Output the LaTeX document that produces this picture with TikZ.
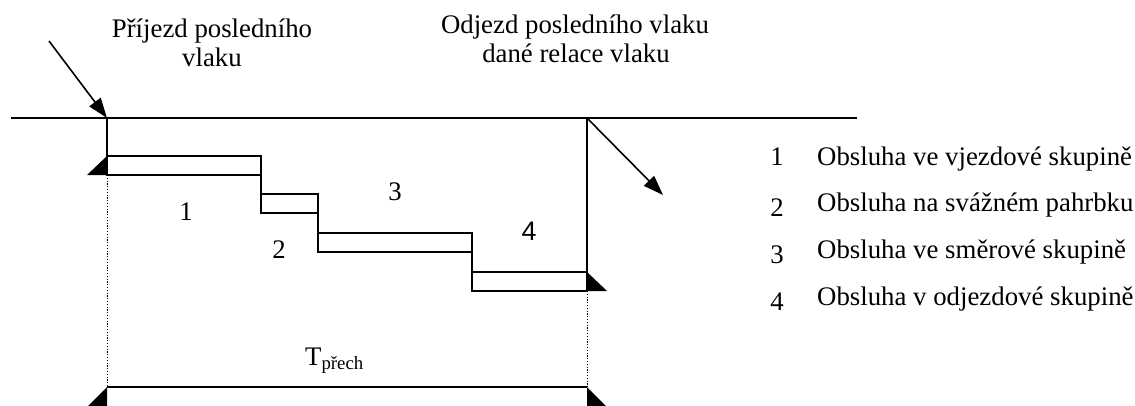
\documentclass[tikz,border=0pt]{standalone}
\usepackage{fontspec}
\setmainfont{Liberation Serif}
\newfontfamily\sansdigits{Liberation Sans}
\usetikzlibrary{arrows.meta}
\begin{document}
\begin{tikzpicture}[x=1pt,y=-1pt,
  thick line/.style={line width=1.6pt},
  stage/.style={draw,line width=1.6pt,minimum height=19pt,inner sep=0pt,
    outer sep=0pt,anchor=north west},
  pointer/.style={line width=1.6pt,-{Triangle[length=20pt,width=14pt]}},
  guide/.style={line width=1pt,dash pattern=on 1.2pt off 1.6pt},
  label/.style={font=\fontsize{26.8}{29}\selectfont,inner sep=0pt,anchor=base},
  legend/.style={label,anchor=base west}]
  \useasboundingbox (0,0) rectangle (1135,405);
  \fill[white] (0,0) rectangle (1135,405);

  % time axis
  \coordinate (axisL) at (11,118);
  \coordinate (axisR) at (857,118);
  \coordinate (arr) at (107,118);
  \coordinate (dep) at (587,118);
  \draw[thick line] (axisL) -- (axisR);

  % service stages
  \node[stage,minimum width=154pt] (b1) at (107,156) {};
  \node[stage,minimum width=57pt]  (b2) at (261,194) {};
  \node[stage,minimum width=154pt] (b3) at (318,233) {};
  \node[stage,minimum width=115pt] (b4) at (472,272) {};
  \draw[thick line] (arr) -- (b1.north west);
  \draw[thick line] (b1.south east) -- (b2.north west);
  \draw[thick line] (b2.south east) -- (b3.north west);
  \draw[thick line] (b3.south east) -- (b4.north west);
  \draw[thick line] (dep) -- (b4.north east);
  \fill (b1.south west) -- ++(-20,0) -- (b1.north west) -- cycle;
  \fill (b4.north east) -- (b4.south east) -- ++(20,0) -- cycle;

  % arrival / departure arrows
  \coordinate (inStart) at (49,41);
  \coordinate (outEnd) at (663,195);
  \draw[pointer] (inStart) -- (arr);
  \draw[pointer] (dep) -- (outEnd);

  % transit time
  \coordinate (tL) at (107,387);
  \coordinate (tR) at (587,387);
  \draw[guide] (b1.south west) -- (tL);
  \draw[guide] (b4.south east) -- (tR);
  \draw[line width=2pt] (tL) -- (tR);
  \fill (tL) -- (88,406) -- (107,406) -- cycle;
  \fill (tR) -- (587,406) -- (606,406) -- cycle;
  \node[label,anchor=base west] (tlabel) at (305,365) {T\textsubscript{přech}};

  % headings
  \node[label] (h1a) at (212,37) {Příjezd posledního};
  \node[label] (h1b) at (212,66) {vlaku};
  \node[label] (h2a) at (575,33) {Odjezd posledního vlaku};
  \node[label] (h2b) at (576,62) {dané relace vlaku};

  % stage numbers
  \node[label] (n1) at (186,220) {1};
  \node[label] (n2) at (279,258) {2};
  \node[label] (n3) at (395,200) {3};
  \node[label,font=\sansdigits\fontsize{26.8}{29}\selectfont] (n4) at (529,240) {4};

  % legend
  \node[label] (l1) at (777,165) {1};
  \node[label] (l2) at (777,216) {2};
  \node[label] (l3) at (777,263) {3};
  \node[label] (l4) at (777,310) {4};
  \node[legend] (t1) at (817,165) {Obsluha ve vjezdové skupině};
  \node[legend] (t2) at (817,211) {Obsluha na svážném pahrbku};
  \node[legend] (t3) at (817,258) {Obsluha ve směrové skupině};
  \node[legend] (t4) at (817,305) {Obsluha v odjezdové skupině};
\end{tikzpicture}
\end{document}
